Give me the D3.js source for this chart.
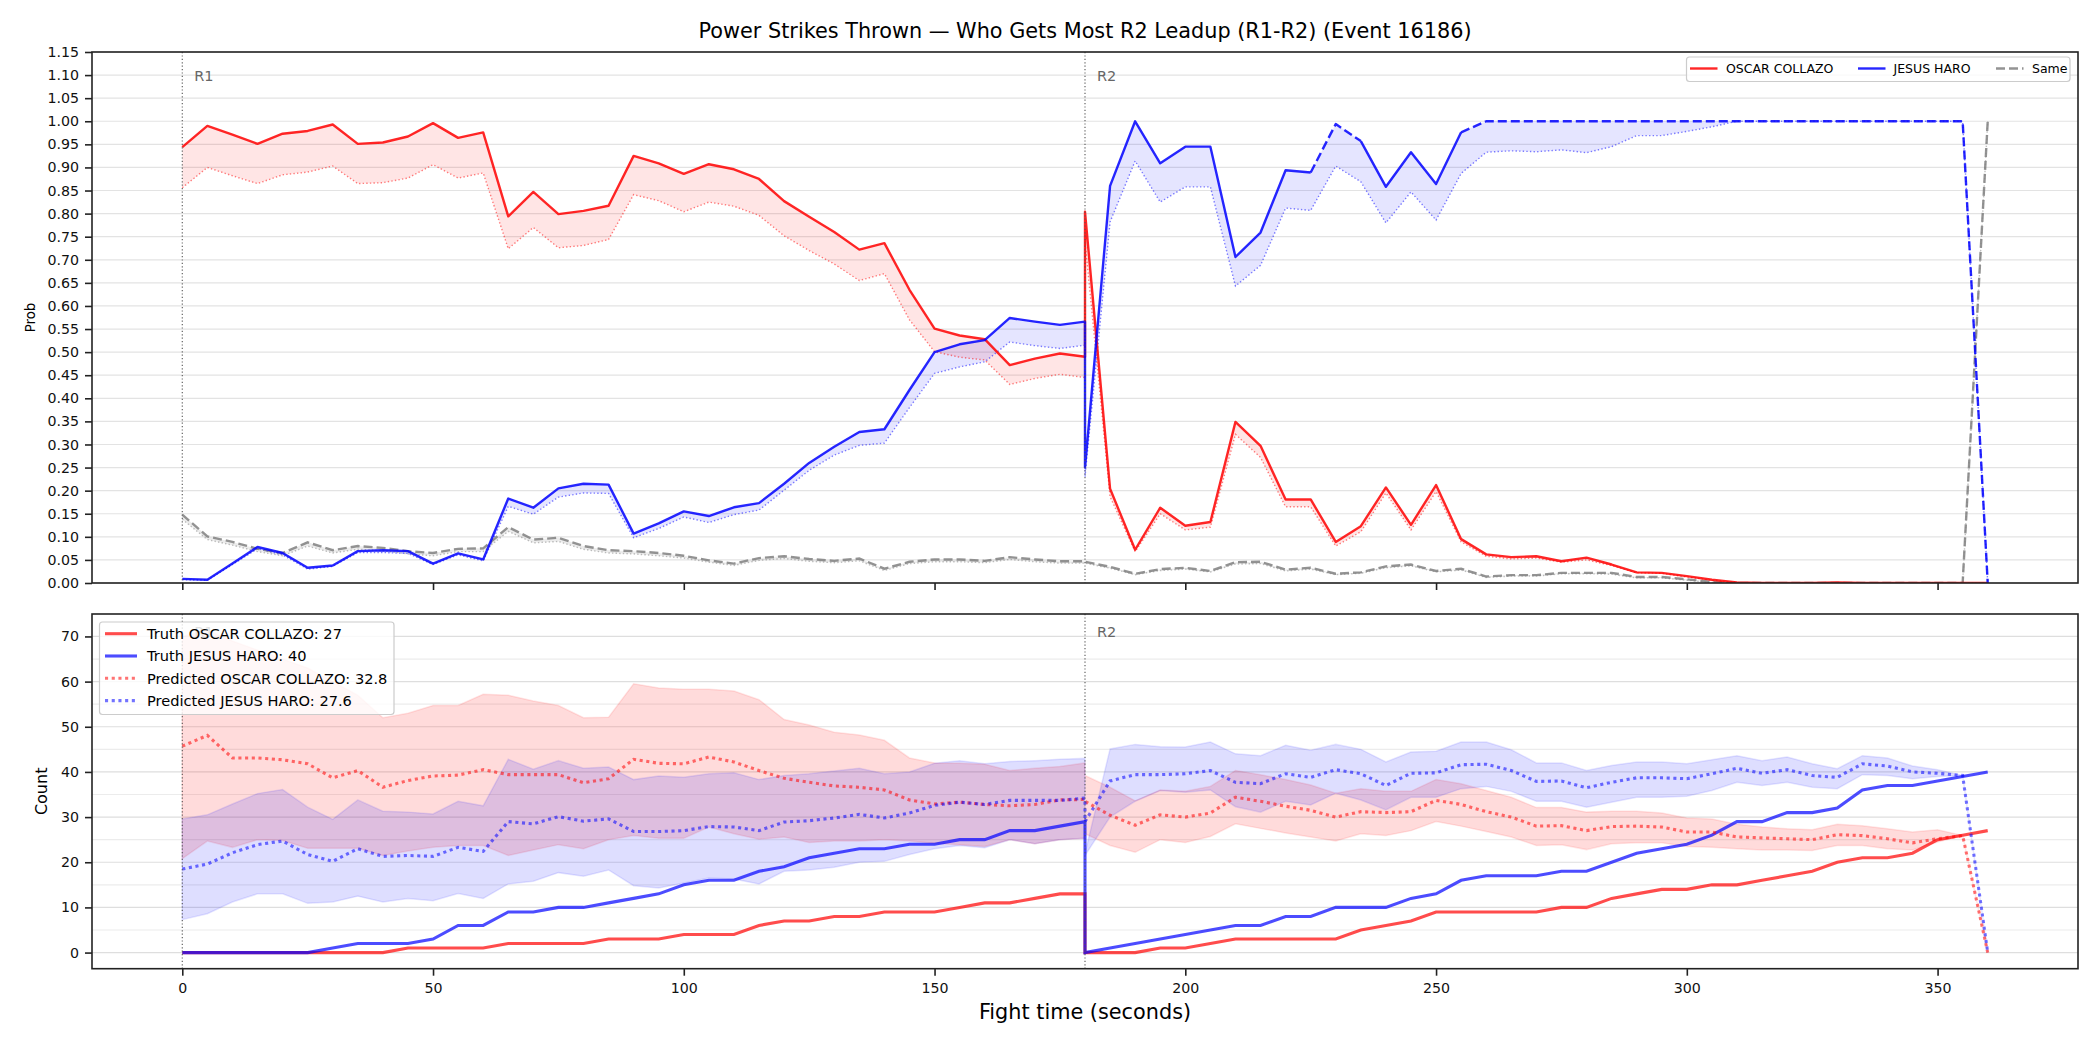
<!DOCTYPE html>
<html lang="en">
<head>
<meta charset="utf-8">
<title>Power Strikes Thrown - Who Gets Most R2 Leadup</title>
<script src="https://d3js.org/d3.v7.min.js"></script>
<style>
  body { margin: 0; background: #fff; }
  svg { font-family: "DejaVu Sans", sans-serif; }
</style>
</head>
<body>
<script>
// ---- data (R1 samples 0..180, then R2 samples 180..360, every 5 s) ----
var times = [0, 5, 10, 15, 20, 25, 30, 35, 40, 45, 50, 55, 60, 65, 70, 75, 80, 85, 90, 95,
  100, 105, 110, 115, 120, 125, 130, 135, 140, 145, 150, 155, 160, 165, 170, 175, 180,
  180, 185, 190, 195, 200, 205, 210, 215, 220, 225, 230, 235, 240, 245, 250, 255, 260, 265,
  270, 275, 280, 285, 290, 295, 300, 305, 310, 315, 320, 325, 330, 335, 340, 345, 350, 355, 360];
var roundStarts = [{ name: "R1", t: 0 }, { name: "R2", t: 180 }];
var fighterA = "OSCAR COLLAZO", fighterB = "JESUS HARO";

// top panel: probability of getting the most power strikes
var collazoProb = [0.944, 0.990, 0.971, 0.951, 0.973, 0.979, 0.993, 0.951, 0.954, 0.967, 0.996, 0.964, 0.976,
  0.794, 0.847, 0.799, 0.806, 0.817, 0.925, 0.909, 0.886, 0.907, 0.896, 0.875, 0.827, 0.793, 0.760, 0.722,
  0.736, 0.635, 0.551, 0.536, 0.528, 0.472, 0.486, 0.497, 0.490,
  0.804, 0.204, 0.072, 0.163, 0.124, 0.132, 0.349, 0.297, 0.181, 0.181, 0.089, 0.123, 0.207, 0.126, 0.212,
  0.095, 0.062, 0.056, 0.058, 0.047, 0.055, 0.040, 0.023, 0.022, 0.015, 0.007, 0.001, 0, 0, 0, 0.001, 0, 0, 0, 0, 0, 0];
var collazoProbPred = [0.856, 0.900, 0.882, 0.865, 0.884, 0.890, 0.903, 0.865, 0.867, 0.877, 0.906, 0.877, 0.888,
  0.724, 0.770, 0.726, 0.731, 0.744, 0.841, 0.828, 0.804, 0.825, 0.816, 0.796, 0.752, 0.720, 0.691, 0.655,
  0.670, 0.570, 0.501, 0.489, 0.483, 0.430, 0.443, 0.452, 0.445,
  0.740, 0.187, 0.068, 0.150, 0.115, 0.121, 0.322, 0.272, 0.165, 0.165, 0.080, 0.111, 0.195, 0.115, 0.198,
  0.089, 0.058, 0.052, 0.054, 0.045, 0.050, 0.038, 0.022, 0.021, 0.013, 0.006, 0.001, 0, 0, 0, 0, 0, 0, 0, 0, 0, 0];
var haroProb = [0.009, 0.007, 0.042, 0.078, 0.065, 0.033, 0.038, 0.069, 0.071, 0.069, 0.042, 0.064, 0.051,
  0.183, 0.163, 0.205, 0.215, 0.213, 0.107, 0.129, 0.155, 0.145, 0.164, 0.173, 0.215, 0.260, 0.295, 0.327,
  0.333, 0.418, 0.500, 0.517, 0.526, 0.574, 0.566, 0.559, 0.566,
  0.250, 0.860, 1.000, 0.909, 0.945, 0.945, 0.706, 0.759, 0.894, 0.889, 0.994, 0.957, 0.858, 0.933, 0.864,
  0.976, 1, 1, 1, 1, 1, 1, 1, 1, 1, 1, 1, 1, 1, 1, 1, 1, 1, 1, 1, 1, 0];
var haroProbPred = [0.007, 0.006, 0.040, 0.074, 0.061, 0.030, 0.036, 0.066, 0.066, 0.064, 0.040, 0.061, 0.048,
  0.166, 0.149, 0.186, 0.195, 0.194, 0.098, 0.118, 0.143, 0.131, 0.148, 0.158, 0.201, 0.244, 0.277, 0.298,
  0.303, 0.380, 0.454, 0.468, 0.479, 0.522, 0.514, 0.508, 0.515,
  0.230, 0.782, 0.914, 0.825, 0.858, 0.858, 0.643, 0.688, 0.812, 0.807, 0.903, 0.869, 0.780, 0.847, 0.786,
  0.887, 0.933, 0.936, 0.934, 0.938, 0.932, 0.945, 0.969, 0.969, 0.978, 0.988, 1, 1, 1, 1, 1, 1, 1, 1, 1, 1, 0];
// 1 = outcome already locked in from this sample on (drawn dashed)
var haroLocked = [0, 0, 0, 0, 0, 0, 0, 0, 0, 0, 0, 0, 0, 0, 0, 0, 0, 0, 0, 0, 0, 0, 0, 0, 0, 0, 0, 0, 0, 0, 0, 0, 0, 0, 0, 0, 0,
  0, 0, 0, 0, 0, 0, 0, 0, 0, 1, 1, 0, 0, 0, 0, 1, 1, 1, 1, 1, 1, 1, 1, 1, 1, 1, 1, 1, 1, 1, 1, 1, 1, 1, 1, 1, 1];
var sameProb = [0.148, 0.101, 0.089, 0.074, 0.065, 0.088, 0.071, 0.080, 0.076, 0.069, 0.065, 0.074, 0.075,
  0.121, 0.094, 0.098, 0.080, 0.071, 0.069, 0.065, 0.059, 0.049, 0.042, 0.054, 0.058, 0.052, 0.048, 0.053,
  0.031, 0.046, 0.051, 0.051, 0.048, 0.056, 0.051, 0.047, 0.047,
  0.046, 0.035, 0.020, 0.030, 0.033, 0.026, 0.045, 0.046, 0.029, 0.033, 0.020, 0.023, 0.036, 0.040, 0.026,
  0.031, 0.014, 0.017, 0.017, 0.022, 0.022, 0.022, 0.013, 0.013, 0.008, 0.002, 0, 0, 0, 0, 0, 0, 0, 0, 0, 0, 1];
var sameProbPred = [0.138, 0.094, 0.082, 0.068, 0.059, 0.080, 0.065, 0.073, 0.070, 0.063, 0.059, 0.068, 0.068,
  0.112, 0.087, 0.090, 0.073, 0.065, 0.063, 0.059, 0.054, 0.045, 0.038, 0.049, 0.053, 0.047, 0.044, 0.048,
  0.027, 0.042, 0.046, 0.046, 0.044, 0.051, 0.046, 0.043, 0.043,
  0.043, 0.032, 0.018, 0.027, 0.030, 0.024, 0.041, 0.042, 0.026, 0.030, 0.018, 0.021, 0.033, 0.037, 0.024,
  0.028, 0.012, 0.015, 0.015, 0.020, 0.020, 0.019, 0.011, 0.011, 0.006, 0.001, 0, 0, 0, 0, 0, 0, 0, 0, 0, 0, 1];

// bottom panel: cumulative power strike counts
var collazoCount = [0, 0, 0, 0, 0, 0, 0, 0, 0, 1, 1, 1, 1, 2, 2, 2, 2, 3, 3, 3, 4, 4, 4, 6, 7, 7, 8, 8, 9, 9, 9, 10, 11, 11, 12, 13, 13,
  0, 0, 0, 1, 1, 2, 3, 3, 3, 3, 3, 5, 6, 7, 9, 9, 9, 9, 9, 10, 10, 12, 13, 14, 14, 15, 15, 16, 17, 18, 20, 21, 21, 22, 25, 26, 27];
var haroCount = [0, 0, 0, 0, 0, 0, 1, 2, 2, 2, 3, 6, 6, 9, 9, 10, 10, 11, 12, 13, 15, 16, 16, 18, 19, 21, 22, 23, 23, 24, 24, 25, 25, 27, 27, 28, 29,
  0, 1, 2, 3, 4, 5, 6, 6, 8, 8, 10, 10, 10, 12, 13, 16, 17, 17, 17, 18, 18, 20, 22, 23, 24, 26, 29, 29, 31, 31, 32, 36, 37, 37, 38, 39, 40];
var collazoPred = [45.7, 48.1, 43.1, 43.1, 42.7, 41.8, 38.7, 40.3, 36.6, 38.1, 39.1, 39.3, 40.5, 39.4, 39.4, 39.4, 37.6, 38.5,
  42.8, 41.9, 41.8, 43.3, 42.2, 40.3, 38.6, 37.7, 36.9, 36.6, 36.0, 33.8, 32.9, 33.3, 32.8, 32.5, 32.8, 33.8, 33.9,
  33.5, 30.4, 28.2, 30.5, 30.0, 30.9, 34.4, 33.5, 32.4, 31.5, 30.0, 31.2, 31.0, 31.2, 33.7, 32.8, 31.2, 30.0,
  28.0, 28.1, 27.0, 27.9, 28.0, 27.8, 26.7, 26.7, 25.6, 25.4, 25.2, 25.0, 26.1, 25.9, 25.2, 24.3, 25.2, 25.9, 0];
var haroPred = [18.5, 19.6, 22.1, 23.9, 24.7, 21.7, 20.2, 23.0, 21.3, 21.5, 21.3, 23.3, 22.4, 29.0, 28.5, 30.1, 29.1, 29.6,
  26.8, 26.8, 27.0, 27.9, 27.8, 27.0, 28.9, 29.2, 29.8, 30.6, 29.8, 30.9, 32.6, 33.3, 32.8, 33.7, 33.7, 33.7, 34.2,
  29.0, 38.0, 39.4, 39.4, 39.6, 40.3, 37.7, 37.4, 39.6, 38.8, 40.5, 39.6, 37.0, 39.7, 39.8, 41.6, 41.7, 40.3,
  37.9, 38.0, 36.5, 37.7, 38.7, 38.7, 38.5, 39.6, 40.8, 39.7, 40.5, 39.2, 38.8, 41.8, 41.3, 40.0, 39.7, 39.2, 0];
var collazoHi = [70.0, 71.4, 69.0, 67.0, 65.0, 63.0, 60.0, 57.0, 52.0, 53.0, 54.7, 54.7, 57.2, 57.0, 55.7, 54.7, 52.0, 52.1,
  59.5, 58.6, 58.3, 58.3, 57.9, 56.0, 51.6, 50.4, 48.8, 48.2, 47.0, 43.1, 42.0, 41.9, 41.7, 40.3, 40.8, 41.2, 42.0,
  39.2, 36.6, 33.6, 36.0, 35.7, 36.8, 40.3, 39.4, 38.3, 37.1, 35.3, 36.3, 35.7, 35.7, 38.3, 37.4, 35.9, 34.4,
  32.1, 32.1, 31.1, 31.3, 31.3, 30.9, 29.8, 29.6, 28.4, 27.8, 27.4, 27.2, 28.4, 28.1, 27.4, 26.7, 27.2, 25.9, 0];
var collazoLo = [20.8, 24.7, 23.3, 25.0, 24.8, 23.1, 23.1, 23.1, 21.5, 22.5, 23.3, 23.7, 23.7, 21.5, 22.7, 23.9, 23.0, 25.0,
  25.9, 25.3, 25.3, 27.8, 26.3, 25.1, 25.6, 24.4, 24.7, 24.7, 25.0, 24.7, 24.2, 23.9, 23.5, 25.0, 24.1, 25.0, 25.3,
  26.3, 23.7, 22.2, 25.0, 24.4, 25.7, 28.5, 27.5, 26.5, 25.6, 24.7, 26.3, 25.9, 27.0, 29.0, 28.0, 26.8, 25.6,
  23.7, 23.9, 22.8, 24.1, 24.3, 24.3, 23.5, 23.3, 23.0, 22.7, 22.7, 22.6, 23.7, 23.7, 23.0, 22.7, 24.5, 25.9, 0];
var haroHi = [29.6, 30.5, 32.9, 35.2, 36.1, 32.2, 29.5, 33.8, 31.3, 31.1, 30.7, 33.5, 32.5, 42.8, 40.6, 42.5, 40.8, 41.1,
  38.3, 39.1, 38.8, 39.6, 39.8, 38.3, 39.2, 39.6, 40.2, 40.8, 39.6, 40.0, 41.9, 42.5, 41.8, 42.3, 42.5, 42.8, 43.0,
  22.0, 45.1, 46.1, 45.6, 45.5, 46.6, 44.0, 43.6, 45.9, 44.8, 46.1, 45.0, 42.2, 44.4, 44.6, 46.6, 46.6, 44.9,
  42.0, 42.0, 40.3, 41.4, 42.2, 42.2, 41.8, 42.7, 43.6, 42.5, 43.3, 41.8, 40.7, 43.6, 43.1, 41.3, 40.5, 39.2, 0];
var haroLo = [7.3, 8.6, 11.2, 13.0, 13.0, 10.9, 11.2, 12.5, 11.2, 12.0, 11.5, 13.1, 12.0, 15.2, 15.8, 17.7, 16.9, 18.3,
  14.8, 14.3, 15.4, 16.5, 16.3, 15.2, 18.0, 18.3, 18.9, 20.0, 20.2, 21.7, 23.0, 23.7, 23.2, 25.0, 24.1, 25.0, 25.3,
  21.5, 30.0, 33.5, 35.9, 35.5, 36.0, 32.3, 31.1, 33.5, 32.7, 35.3, 33.8, 31.6, 34.4, 34.4, 36.3, 36.8, 35.7,
  33.5, 33.5, 32.2, 33.3, 34.4, 34.4, 34.6, 35.9, 37.7, 37.0, 37.7, 36.6, 36.3, 39.4, 39.2, 38.5, 39.0, 39.2, 0];
var finalTruth = [27, 40];
var finalPred = [32.8, 27.6];

// ---- layout ----
var W = 2100, H = 1050;
var left = 92, right = 2078;
var top1 = 52, bot1 = 583, top2 = 614, bot2 = 968.7;

var svg = d3.select("body").append("svg")
  .attr("width", W).attr("height", H);

var x = d3.scaleLinear().domain([-18, 378]).range([left, right]);
var yTop = d3.scaleLinear().domain([0, 1.15]).range([bot1, top1]);

// matplotlib style 5% padding on count panel
var allCounts = [].concat(collazoCount, haroCount, collazoPred, haroPred, collazoHi, collazoLo, haroHi, haroLo);
var cMin = d3.min(allCounts), cMax = d3.max(allCounts), pad = (cMax - cMin) * 0.05;
var yBot = d3.scaleLinear().domain([cMin - pad, cMax + pad]).range([bot2, top2]);

var RED = "#ff0000", BLUE = "#0000ff", GREY = "#808080";

function lineFor(y, vals, from, to) {
  var idx = d3.range(from === undefined ? 0 : from, (to === undefined ? times.length - 1 : to) + 1);
  return d3.line().x(function(i) { return x(times[i]); }).y(function(i) { return y(vals[i]); })(idx);
}
function areaFor(y, a, b) {
  return d3.area()
    .x(function(i) { return x(times[i]); })
    .y0(function(i) { return y(a[i]); })
    .y1(function(i) { return y(b[i]); })(d3.range(times.length));
}

// clip paths
var defs = svg.append("defs");
defs.append("clipPath").attr("id", "clipTop").append("rect")
  .attr("x", left).attr("y", top1).attr("width", right - left).attr("height", bot1 - top1);
defs.append("clipPath").attr("id", "clipBot").append("rect")
  .attr("x", left).attr("y", top2).attr("width", right - left).attr("height", bot2 - top2);

// ---- title ----
svg.append("text")
  .attr("x", (left + right) / 2).attr("y", 38)
  .attr("text-anchor", "middle").attr("font-size", 20.8)
  .text("Power Strikes Thrown \u2014 Who Gets Most R2 Leadup (R1-R2) (Event 16186)");

// ================= TOP PANEL =================
var gTop = svg.append("g");
// grid
gTop.selectAll(".grid").data(d3.range(0, 24).map(function(k) { return +(k * 0.05).toFixed(2); }))
  .enter().append("line")
  .attr("x1", left).attr("x2", right)
  .attr("y1", function(d) { return yTop(d); }).attr("y2", function(d) { return yTop(d); })
  .attr("stroke", "#e3e3e3").attr("stroke-width", 1.2);

var pTop = gTop.append("g").attr("clip-path", "url(#clipTop)");

// bands between actual and predicted
pTop.append("path").attr("d", areaFor(yTop, collazoProb, collazoProbPred))
  .attr("fill", RED).attr("fill-opacity", 0.1);
pTop.append("path").attr("d", areaFor(yTop, haroProb, haroProbPred))
  .attr("fill", BLUE).attr("fill-opacity", 0.1);
pTop.append("path").attr("d", areaFor(yTop, sameProb, sameProbPred))
  .attr("fill", GREY).attr("fill-opacity", 0.15);

// predicted (dotted)
[[collazoProbPred, RED], [haroProbPred, BLUE], [sameProbPred, GREY]].forEach(function(s) {
  pTop.append("path").attr("d", lineFor(yTop, s[0]))
    .attr("fill", "none").attr("stroke", s[1]).attr("stroke-opacity", 0.5)
    .attr("stroke-width", 1.4).attr("stroke-dasharray", "1.4,2.2");
});

// actual lines
pTop.append("path").attr("d", lineFor(yTop, sameProb))
  .attr("fill", "none").attr("stroke", GREY).attr("stroke-opacity", 0.85)
  .attr("stroke-width", 2.4).attr("stroke-dasharray", "9,4");
pTop.append("path").attr("d", lineFor(yTop, collazoProb))
  .attr("fill", "none").attr("stroke", RED).attr("stroke-opacity", 0.85)
  .attr("stroke-width", 2.4).attr("stroke-linejoin", "round");

// haro line: split into solid / dashed runs
var runs = [], start = 0;
for (var i = 1; i < times.length - 1; i++) {
  if (haroLocked[i] !== haroLocked[start]) { runs.push([start, i, haroLocked[start]]); start = i; }
}
runs.push([start, times.length - 1, haroLocked[start]]);
runs.forEach(function(r) {
  pTop.append("path").attr("d", lineFor(yTop, haroProb, r[0], r[1]))
    .attr("fill", "none").attr("stroke", BLUE).attr("stroke-opacity", 0.85)
    .attr("stroke-width", 2.4).attr("stroke-linejoin", "round")
    .attr("stroke-dasharray", r[2] ? "9,4" : null);
});

// axes top
var axTopY = gTop.append("g").attr("transform", "translate(" + left + ",0)")
  .call(d3.axisLeft(yTop).tickValues(d3.range(0, 24).map(function(k) { return k * 0.05; }))
    .tickFormat(d3.format(".2f")).tickSize(7).tickPadding(6));
var axTopX = gTop.append("g").attr("transform", "translate(0," + bot1 + ")")
  .call(d3.axisBottom(x).tickValues(d3.range(0, 351, 50)).tickFormat("").tickSize(7));

// ================= BOTTOM PANEL =================
var gBot = svg.append("g");
gBot.selectAll(".grid").data(d3.range(0, 75, 5))
  .enter().append("line")
  .attr("x1", left).attr("x2", right)
  .attr("y1", function(d) { return yBot(d); }).attr("y2", function(d) { return yBot(d); })
  .attr("stroke", function(d) { return d % 10 === 0 ? "#dedede" : "#ececec"; })
  .attr("stroke-width", 1.2);

var pBot = gBot.append("g").attr("clip-path", "url(#clipBot)");
pBot.append("path").attr("d", areaFor(yBot, collazoLo, collazoHi))
  .attr("fill", RED).attr("fill-opacity", 0.14)
  .attr("stroke", RED).attr("stroke-opacity", 0.1).attr("stroke-width", 1.5);
pBot.append("path").attr("d", areaFor(yBot, haroLo, haroHi))
  .attr("fill", BLUE).attr("fill-opacity", 0.13)
  .attr("stroke", BLUE).attr("stroke-opacity", 0.1).attr("stroke-width", 1.5);

pBot.append("path").attr("d", lineFor(yBot, collazoCount))
  .attr("fill", "none").attr("stroke", RED).attr("stroke-opacity", 0.7).attr("stroke-width", 3.1);
pBot.append("path").attr("d", lineFor(yBot, haroCount))
  .attr("fill", "none").attr("stroke", BLUE).attr("stroke-opacity", 0.7).attr("stroke-width", 3.1);
pBot.append("path").attr("d", lineFor(yBot, collazoPred))
  .attr("fill", "none").attr("stroke", RED).attr("stroke-opacity", 0.55)
  .attr("stroke-width", 3.1).attr("stroke-dasharray", "3.1,3.6");
pBot.append("path").attr("d", lineFor(yBot, haroPred))
  .attr("fill", "none").attr("stroke", BLUE).attr("stroke-opacity", 0.55)
  .attr("stroke-width", 3.1).attr("stroke-dasharray", "3.1,3.6");

var axBotY = gBot.append("g").attr("transform", "translate(" + left + ",0)")
  .call(d3.axisLeft(yBot).tickValues(d3.range(0, 71, 10)).tickSize(7).tickPadding(6));
var axBotX = gBot.append("g").attr("transform", "translate(0," + bot2 + ")")
  .call(d3.axisBottom(x).tickValues(d3.range(0, 351, 50)).tickSize(7).tickPadding(7));

// round markers
[[top1, bot1, 81], [top2, bot2, 637]].forEach(function(p) {
  roundStarts.forEach(function(r) {
    svg.append("line")
      .attr("x1", x(r.t)).attr("x2", x(r.t)).attr("y1", p[0]).attr("y2", p[1])
      .attr("stroke", "#555").attr("stroke-width", 1.1).attr("stroke-dasharray", "1.2,2.2");
    svg.append("text").attr("x", x(r.t) + 12).attr("y", p[2])
      .attr("font-size", 14.5).attr("fill", "#666").text(r.name);
  });
});

// axis styling
[axTopY, axTopX, axBotY, axBotX].forEach(function(a) {
  a.select(".domain").remove();
  a.selectAll(".tick line").attr("stroke", "#222").attr("stroke-width", 1.6);
  a.selectAll(".tick text").attr("font-size", 14.2).attr("fill", "#111")
    .attr("font-family", "DejaVu Sans, sans-serif");
});

// frames
[[top1, bot1], [top2, bot2]].forEach(function(p) {
  svg.append("rect").attr("x", left).attr("y", p[0])
    .attr("width", right - left).attr("height", p[1] - p[0])
    .attr("fill", "none").attr("stroke", "#222").attr("stroke-width", 1.6);
});

// axis labels
svg.append("text").attr("transform", "translate(34.5," + (top1 + bot1) / 2 + ") rotate(-90)")
  .attr("text-anchor", "middle").attr("font-size", 13.3).text("Prob");
svg.append("text").attr("transform", "translate(47," + (top2 + bot2) / 2 + ") rotate(-90)")
  .attr("text-anchor", "middle").attr("font-size", 16).text("Count");
svg.append("text").attr("x", (left + right) / 2).attr("y", 1019)
  .attr("text-anchor", "middle").attr("font-size", 20.8).text("Fight time (seconds)");

// ---- legend top ----
var lgT = svg.append("g");
lgT.append("rect").attr("x", 1686.5).attr("y", 57).attr("width", 383.5).attr("height", 24.5)
  .attr("rx", 3).attr("fill", "#fff").attr("fill-opacity", 0.8)
  .attr("stroke", "#cccccc").attr("stroke-width", 1.2);
[[fighterA, RED, null, 1690, 1726], [fighterB, BLUE, null, 1858, 1893.5], ["Same", GREY, "9,4", 1996, 2032]]
  .forEach(function(e) {
    lgT.append("line").attr("x1", e[3]).attr("x2", e[3] + 27.5).attr("y1", 68.5).attr("y2", 68.5)
      .attr("stroke", e[1]).attr("stroke-opacity", 0.85).attr("stroke-width", 2.4)
      .attr("stroke-dasharray", e[2]);
    lgT.append("text").attr("x", e[4]).attr("y", 73).attr("font-size", 12.5).text(e[0]);
  });

// ---- legend bottom ----
var lgB = svg.append("g");
lgB.append("rect").attr("x", 99.5).attr("y", 622).attr("width", 294.5).attr("height", 92.5)
  .attr("rx", 3).attr("fill", "#fff").attr("fill-opacity", 0.8)
  .attr("stroke", "#cccccc").attr("stroke-width", 1.2);
var botEntries = [
  ["Truth " + fighterA + ": " + finalTruth[0], RED, 0.7, null],
  ["Truth " + fighterB + ": " + finalTruth[1], BLUE, 0.7, null],
  ["Predicted " + fighterA + ": " + finalPred[0], RED, 0.55, "3.1,3.6"],
  ["Predicted " + fighterB + ": " + finalPred[1], BLUE, 0.55, "3.1,3.6"]
];
botEntries.forEach(function(e, k) {
  var cy = 633.7 + k * 22.3;
  lgB.append("line").attr("x1", 105).attr("x2", 137).attr("y1", cy).attr("y2", cy)
    .attr("stroke", e[1]).attr("stroke-opacity", e[2]).attr("stroke-width", 3.1)
    .attr("stroke-dasharray", e[3]);
  lgB.append("text").attr("x", 147).attr("y", cy + 5.2).attr("font-size", 14.6).text(e[0]);
});
</script>
</body>
</html>
